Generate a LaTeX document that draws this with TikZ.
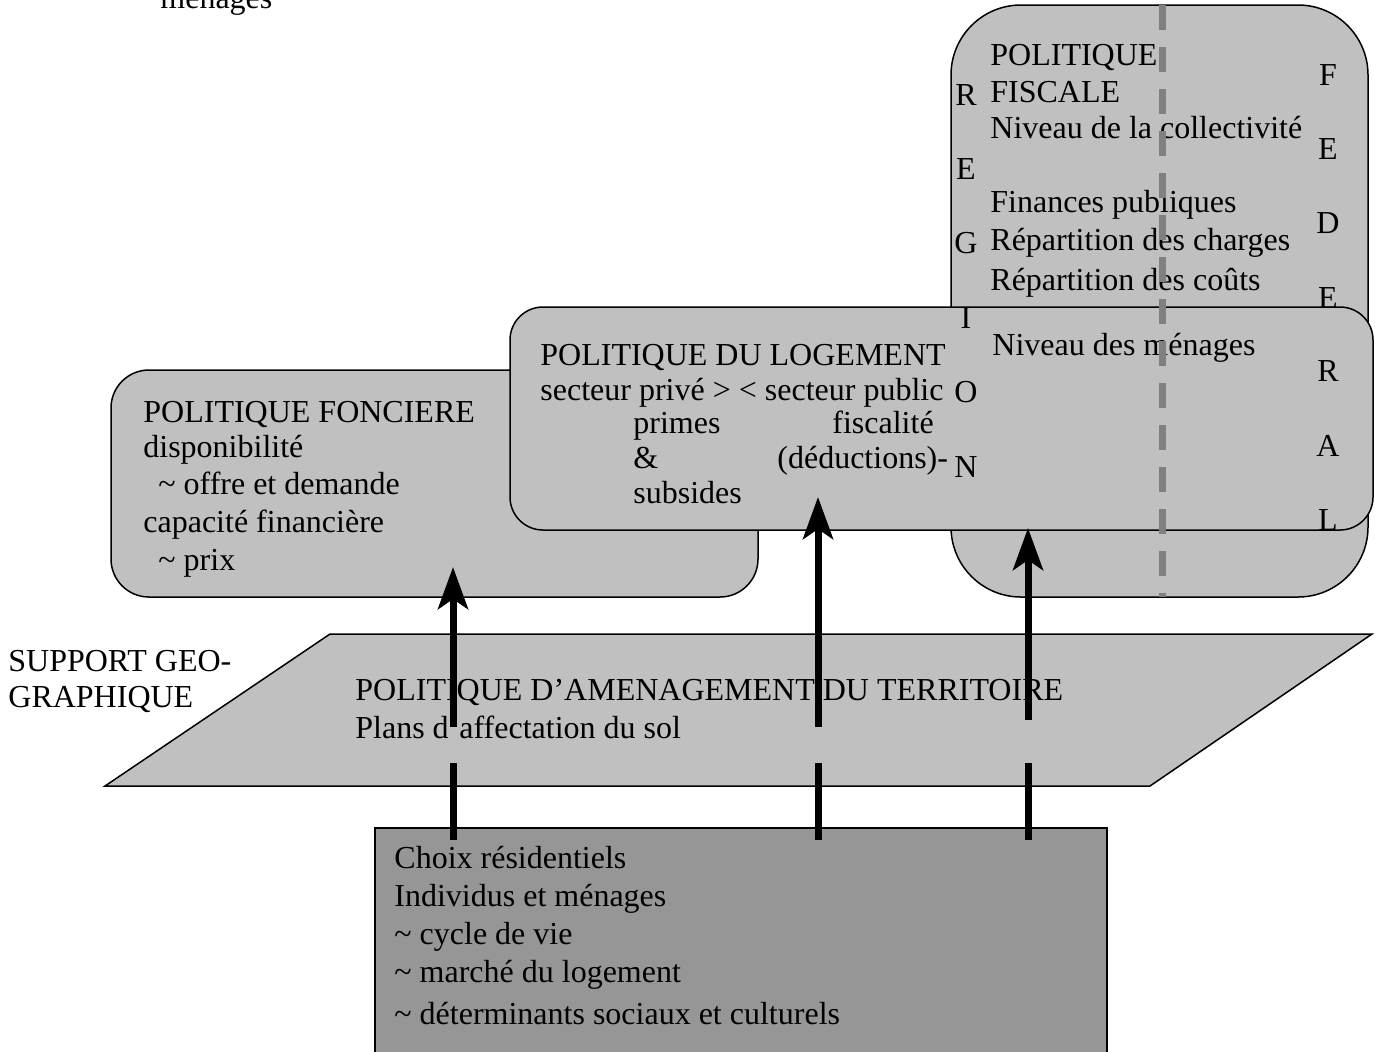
\documentclass[tikz,border=0pt]{standalone}
\usepackage{fontspec}
\setmainfont{Liberation Serif}
\usetikzlibrary{arrows.meta}
\definecolor{boxgray}{RGB}{192,192,192}
\definecolor{darkbox}{RGB}{150,150,150}
\definecolor{dashgray}{RGB}{128,128,128}
\tikzset{
  boite/.style={fill=boxgray,draw=black,line width=0.75pt},
  txt/.style={anchor=base west,inner sep=0,font=\fontsize{16}{18}\selectfont},
  lettre/.style={anchor=base,inner sep=0,font=\fontsize{16}{18}\selectfont},
  fleche/.style={black,line width=3.5pt},
  pointe/.style={fleche,-{Stealth[length=21pt,width=15pt,inset=5pt]}},
}

\begin{document}
\begin{tikzpicture}[x=0.5pt,y=-0.5pt]
  \useasboundingbox (0,0) rectangle (1375,1051);

  % --- Reste de la page precedente ---
  \node[txt] (menages-haut) at (160,8) {ménages};

  % --- Politique fiscale (arriere-plan) ---
  \draw[boite,rounded corners=35pt] (951,5) rectangle (1368,597);
  \node[txt] (fisc-titre1) at (990,65) {POLITIQUE};
  \node[txt] (fisc-titre2) at (990,102) {FISCALE};
  \node[txt] (fisc-coll) at (990,138) {Niveau de la collectivité};
  \node[txt] (fisc-fin) at (990,212) {Finances publiques};
  \node[txt] (fisc-charges) at (990,250) {Répartition des charges};
  \node[txt] (fisc-couts) at (990,290) {Répartition des coûts};
  \node[lettre] (fed-4) at (1328,308) {E};   % coupe par le logement

  % --- Politique fonciere ---
  \draw[boite,rounded corners=19pt] (111,370) rectangle (758,597);
  \node[txt] (fonc-titre) at (143,422) {POLITIQUE FONCIERE};
  \node[txt] (fonc-dispo) at (143,457) {disponibilité};
  \node[txt] (fonc-offre) at (158,494) {\textasciitilde\ offre et demande};
  \node[txt] (fonc-capa) at (143,532) {capacité financière};
  \node[txt] (fonc-prix) at (158,570) {\textasciitilde\ prix};

  % --- Politique du logement ---
  \draw[boite,rounded corners=16.5pt] (510,307) rectangle (1373,530);
  \node[txt] (log-titre) at (540,365) {POLITIQUE DU LOGEMENT};
  \node[txt] (log-secteur) at (540,400) {secteur privé > < secteur public};
  \node[txt] (log-primes) at (633,433) {primes};
  \node[txt] (log-fisc) at (832,433) {fiscalité};
  \node[txt] (log-et) at (633,468) {\&};
  \node[txt] (log-deduc) at (777,468) {(déductions)-};
  \node[txt] (log-subs) at (633,503) {subsides};
  \node[txt] (fisc-menages) at (992,355) {Niveau des ménages};

  % --- Lettres verticales REGION / FEDERAL ---
  \foreach \lt [count=\i] in {R,E,G,I,O,N}
    \node[lettre] (reg-\i) at (966,{105+74.4*(\i-1)}) {\lt};
  \foreach \lt/\i in {F/1,E/2,D/3,R/5,A/6,L/7}
    \node[lettre] (fed-\i) at (1328,{85+74.2*(\i-1)}) {\lt};

  % --- Limite region / federal ---
  \draw[dashgray,line width=3.5pt,dash pattern=on 12.5pt off 8.5pt] (1162,5) -- (1162,597);

  % --- Amenagement du territoire ---
  \draw[boite] (330,634) -- (1372,634) -- (1150,786) -- (105,786) -- cycle;
  \node[txt] (amen-titre) at (355,700) {POLITIQUE D’AMENAGEMENT DU TERRITOIRE};
  \node[txt] (amen-plans) at (355,738) {Plans d’affectation du sol};
  \node[txt] (support-1) at (8,671) {SUPPORT GEO-};
  \node[txt] (support-2) at (8,707) {GRAPHIQUE};

  % --- Choix residentiels ---
  \draw[fill=darkbox,draw=black,line width=0.75pt] (375,828) rectangle (1107,1070);
  \node[txt] (choix-1) at (394,868) {Choix résidentiels};
  \node[txt] (choix-2) at (394,906) {Individus et ménages};
  \node[txt] (choix-3) at (394,944) {\textasciitilde\ cycle de vie};
  \node[txt] (choix-4) at (394,982) {\textasciitilde\ marché du logement};
  \node[txt] (choix-5) at (394,1024) {\textasciitilde\ déterminants sociaux et culturels};

  % --- Fleches (interrompues dans le plan) ---
  \foreach \xx/\ycoupe/\tip [count=\k] in {453/727/567,818/727/497,1028/720/528}{%
    \coordinate (f\k-bas) at (\xx,840);
    \coordinate (f\k-coupe) at (\xx,763);
    \coordinate (f\k-haut) at (\xx,\ycoupe);
    \coordinate (f\k-tip) at (\xx,\tip);
    \draw[fleche] (f\k-bas) -- (f\k-coupe);
    \draw[pointe] (f\k-haut) -- (f\k-tip);
  }
\end{tikzpicture}
\end{document}
